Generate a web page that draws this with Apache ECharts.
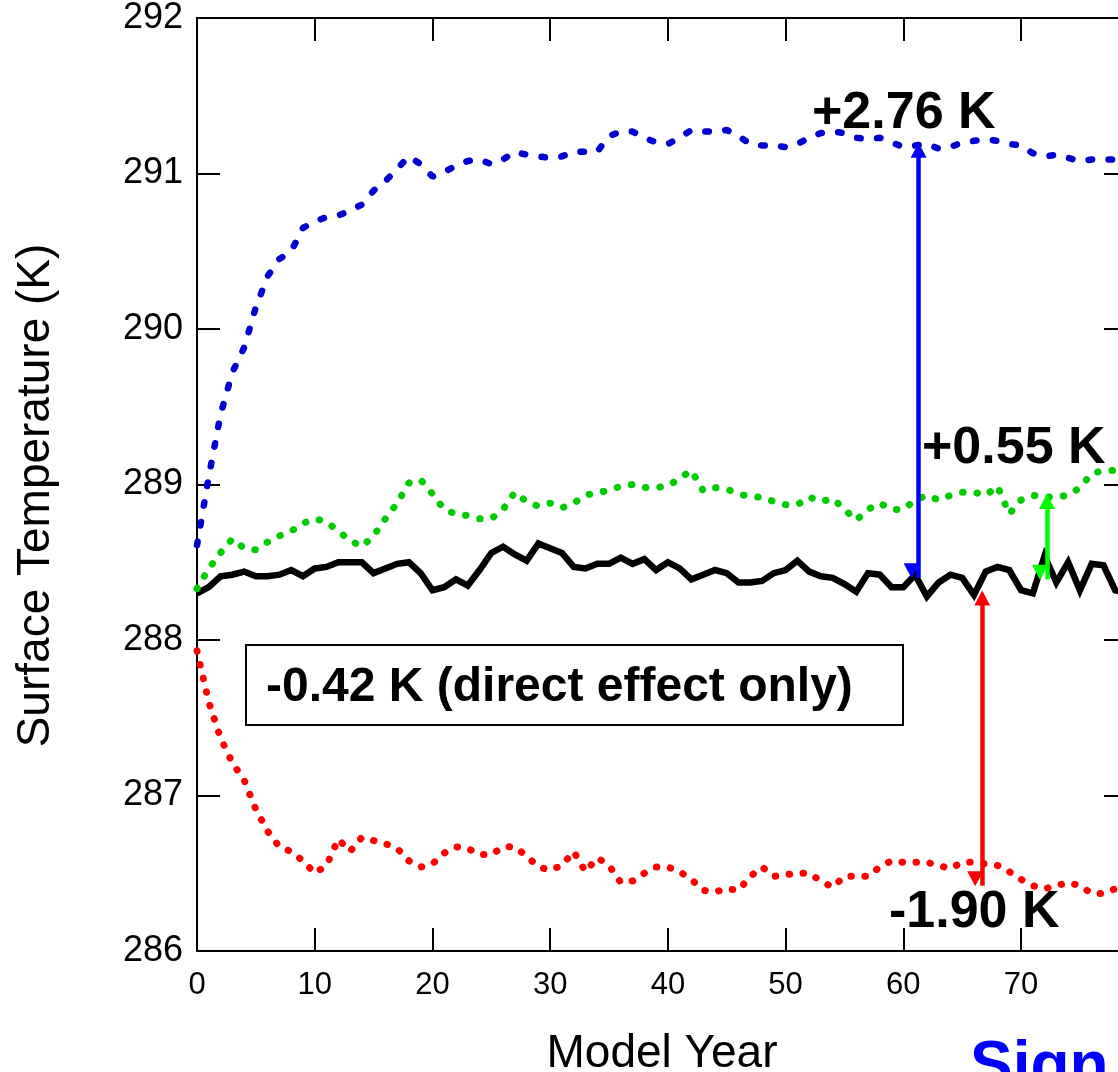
<!DOCTYPE html>
<html>
<head>
<meta charset="utf-8">
<script src="https://cdn.jsdelivr.net/npm/echarts@6/dist/echarts.min.js"></script>
<style>
  html, body { margin: 0; padding: 0; background: #fff; }
  #chart { width: 1118px; height: 1072px; }
</style>
</head>
<body>
<div id="chart"></div>
<script>
// model years 0..79
let years = [0,1,2,3,4,5,6,7,8,9,10,11,12,13,14,15,16,17,18,19,20,21,22,23,24,25,26,27,28,29,
    30,31,32,33,34,35,36,37,38,39,40,41,42,43,44,45,46,47,48,49,50,51,52,53,54,55,56,57,58,59,
    60,61,62,63,64,65,66,67,68,69,70,71,72,73,74,75,76,77,78,79]

// control run (solid black)
let control = [288.30,288.34,288.41,288.42,288.44,288.41,288.41,288.42,288.45,288.41,
    288.46,288.47,288.50,288.50,288.50,288.43,288.46,288.49,288.50,288.43,
    288.32,288.34,288.39,288.35,288.45,288.56,288.60,288.55,288.51,288.62,
    288.59,288.56,288.47,288.46,288.49,288.49,288.53,288.49,288.52,288.45,
    288.50,288.46,288.39,288.42,288.45,288.43,288.37,288.37,288.38,288.43,
    288.45,288.51,288.44,288.41,288.40,288.36,288.31,288.43,288.42,288.34,
    288.34,288.42,288.28,288.37,288.42,288.40,288.29,288.44,288.47,288.45,
    288.32,288.30,288.54,288.37,288.50,288.32,288.49,288.48,288.32,288.30]

// green dotted run
let greenRun = [288.33,288.46,288.56,288.65,288.59,288.58,288.63,288.67,288.70,288.75,
    288.78,288.76,288.70,288.64,288.60,288.67,288.78,288.88,289.01,289.03,
    288.94,288.84,288.81,288.80,288.78,288.78,288.84,288.95,288.89,288.86,
    288.88,288.85,288.88,288.93,288.95,288.96,288.99,289.00,288.98,288.98,
    288.99,289.04,289.09,288.96,288.98,288.97,288.94,288.92,288.92,288.89,
    288.87,288.87,288.92,288.89,288.91,288.84,288.77,288.84,288.88,288.84,
    288.84,288.90,288.93,288.90,288.93,288.95,288.95,288.93,288.99,288.81,
    288.90,288.93,288.92,288.92,288.93,288.98,289.07,289.09,289.09,289.10]

// blue dotted run
let blueRun = [288.61,289.05,289.45,289.72,289.88,290.14,290.34,290.45,290.50,290.65,
    290.69,290.72,290.73,290.76,290.80,290.89,290.95,291.03,291.11,291.06,
    290.98,291.01,291.05,291.08,291.09,291.06,291.09,291.14,291.12,291.11,
    291.10,291.11,291.14,291.14,291.14,291.24,291.27,291.27,291.23,291.20,
    291.19,291.23,291.28,291.27,291.27,291.28,291.24,291.19,291.18,291.18,
    291.17,291.19,291.23,291.26,291.27,291.26,291.23,291.22,291.23,291.20,
    291.17,291.18,291.19,291.16,291.17,291.20,291.21,291.22,291.21,291.19,
    291.18,291.13,291.11,291.12,291.10,291.08,291.09,291.09,291.09,291.09]

// red dotted run
let redRun = [287.93,287.60,287.37,287.21,287.10,286.91,286.77,286.67,286.64,286.58,
    286.50,286.55,286.72,286.64,286.73,286.71,286.69,286.66,286.58,286.54,
    286.56,286.63,286.67,286.66,286.62,286.62,286.67,286.67,286.61,286.54,
    286.52,286.55,286.64,286.51,286.60,286.55,286.44,286.45,286.50,286.54,
    286.54,286.51,286.46,286.39,286.38,286.40,286.39,286.48,286.54,286.48,
    286.49,286.50,286.50,286.45,286.41,286.48,286.48,286.48,286.54,286.58,
    286.57,286.57,286.57,286.55,286.53,286.57,286.57,286.56,286.55,286.51,
    286.46,286.42,286.40,286.42,286.44,286.42,286.37,286.37,286.40,286.41]

// difference arrows: [year, from, to]
let blueArrow = [61.3, 291.15, 288.40]
let greenArrow = [72.2, 288.89, 288.39]
let redArrow = [66.7, 288.27, 286.42]

let xTicks = [0, 10, 20, 30, 40, 50, 60, 70]
let yTicks = [286, 287, 288, 289, 290, 291, 292]

const FONT = "'Liberation Sans', Arial, Helvetica, sans-serif"

function pairs(vals) {
    return years.map((y, i) => [y, vals[i]])
}

function arrow(a, color) {
    return {
        silent: true,
        symbol: ['triangle', 'triangle'],
        symbolSize: [16, 15],
        symbolOffset: [0, 7],
        label: {show: false},
        lineStyle: {type: 'solid', color: color, width: 4.5},
        data: [[{coord: [a[0], a[1]]}, {coord: [a[0], a[2]]}]]
    }
}

let chart = echarts.init(document.getElementById('chart'))

let axisLine = {onZero: false, lineStyle: {color: '#000', width: 2}}
let axisTick = {inside: true, length: 23, lineStyle: {color: '#000', width: 2}}

let option = {
    animation: false,
    backgroundColor: '#fff',
    textStyle: {fontFamily: FONT},
    grid: {left: 197, top: 18, right: -9, bottom: 121, outerBoundsMode: 'none', containLabel: false},
    xAxis: [
        {
            type: 'value', min: 0, max: 79, interval: 10, position: 'bottom',
            axisLine: axisLine, axisTick: axisTick, splitLine: {show: false},
            axisLabel: {
                color: '#000', fontSize: 31, margin: 19, fontFamily: FONT,
                formatter: v => xTicks.includes(v) ? String(v) : ''
            },
            name: 'Model Year', nameLocation: 'middle', nameGap: 80,
            nameTextStyle: {color: '#000', fontSize: 46, fontFamily: FONT}
        },
        {
            type: 'value', min: 0, max: 79, interval: 10, position: 'top',
            axisLine: axisLine, axisTick: axisTick, splitLine: {show: false},
            axisLabel: {show: false}
        }
    ],
    yAxis: [
        {
            type: 'value', min: 286, max: 292, interval: 1, position: 'left',
            axisLine: axisLine, axisTick: axisTick, splitLine: {show: false},
            axisLabel: {
                color: '#000', fontSize: 36, margin: 14, fontFamily: FONT,
                formatter: v => yTicks.includes(v) ? String(v) : ''
            },
            name: 'Surface Temperature (K)', nameLocation: 'middle', nameGap: 138,
            nameRotate: 90,
            nameTextStyle: {color: '#000', fontSize: 46, fontFamily: FONT, padding: [0, 22, 0, 0]}
        },
        {
            type: 'value', min: 286, max: 292, interval: 1, position: 'right',
            axisLine: axisLine, axisTick: axisTick, splitLine: {show: false},
            axisLabel: {show: false}
        }
    ],
    series: [
        {
            type: 'line', data: pairs(control), showSymbol: false,
            lineStyle: {color: '#000', width: 6.5, join: 'miter'}
        },
        {
            type: 'line', data: pairs(greenRun), showSymbol: false,
            lineStyle: {color: '#00cc00', width: 7, type: [0.5, 14], cap: 'round'},
            markLine: arrow(greenArrow, '#00ff00')
        },
        {
            type: 'line', data: pairs(redRun), showSymbol: false,
            lineStyle: {color: '#ff0000', width: 7, type: [0.5, 13.5], cap: 'round'},
            markLine: arrow(redArrow, '#ff0000')
        },
        {
            type: 'line', data: pairs(blueRun), showSymbol: false,
            lineStyle: {color: '#0000d0', width: 6.5, type: [3.5, 16.5], cap: 'round'},
            markLine: arrow(blueArrow, '#0000ff')
        }
    ],
    graphic: [
        {
            type: 'text', x: 812, y: 114, z: 100,
            style: {text: '+2.76 K', font: 'bold 52px ' + FONT, fill: '#000', verticalAlign: 'middle'}
        },
        {
            type: 'text', x: 922, y: 449, z: 100,
            style: {text: '+0.55 K', font: 'bold 52px ' + FONT, fill: '#000', verticalAlign: 'middle'}
        },
        {
            type: 'text', x: 889, y: 913, z: 100,
            style: {text: '-1.90 K', font: 'bold 52px ' + FONT, fill: '#000', verticalAlign: 'middle'}
        },
        {
            type: 'rect', z: 100,
            shape: {x: 246, y: 645, width: 657, height: 80},
            style: {fill: '#fff', stroke: '#000', lineWidth: 2}
        },
        {
            type: 'text', x: 266, y: 688, z: 101,
            style: {text: '-0.42 K (direct effect only)', font: 'bold 48px ' + FONT, fill: '#000', verticalAlign: 'middle'}
        },
        {
            type: 'text', x: 970, y: 1068, z: 100,
            style: {text: 'Sign', font: 'bold 64px ' + FONT, fill: '#0000ff', verticalAlign: 'middle'}
        }
    ]
}

chart.setOption(option)
</script>
</body>
</html>
